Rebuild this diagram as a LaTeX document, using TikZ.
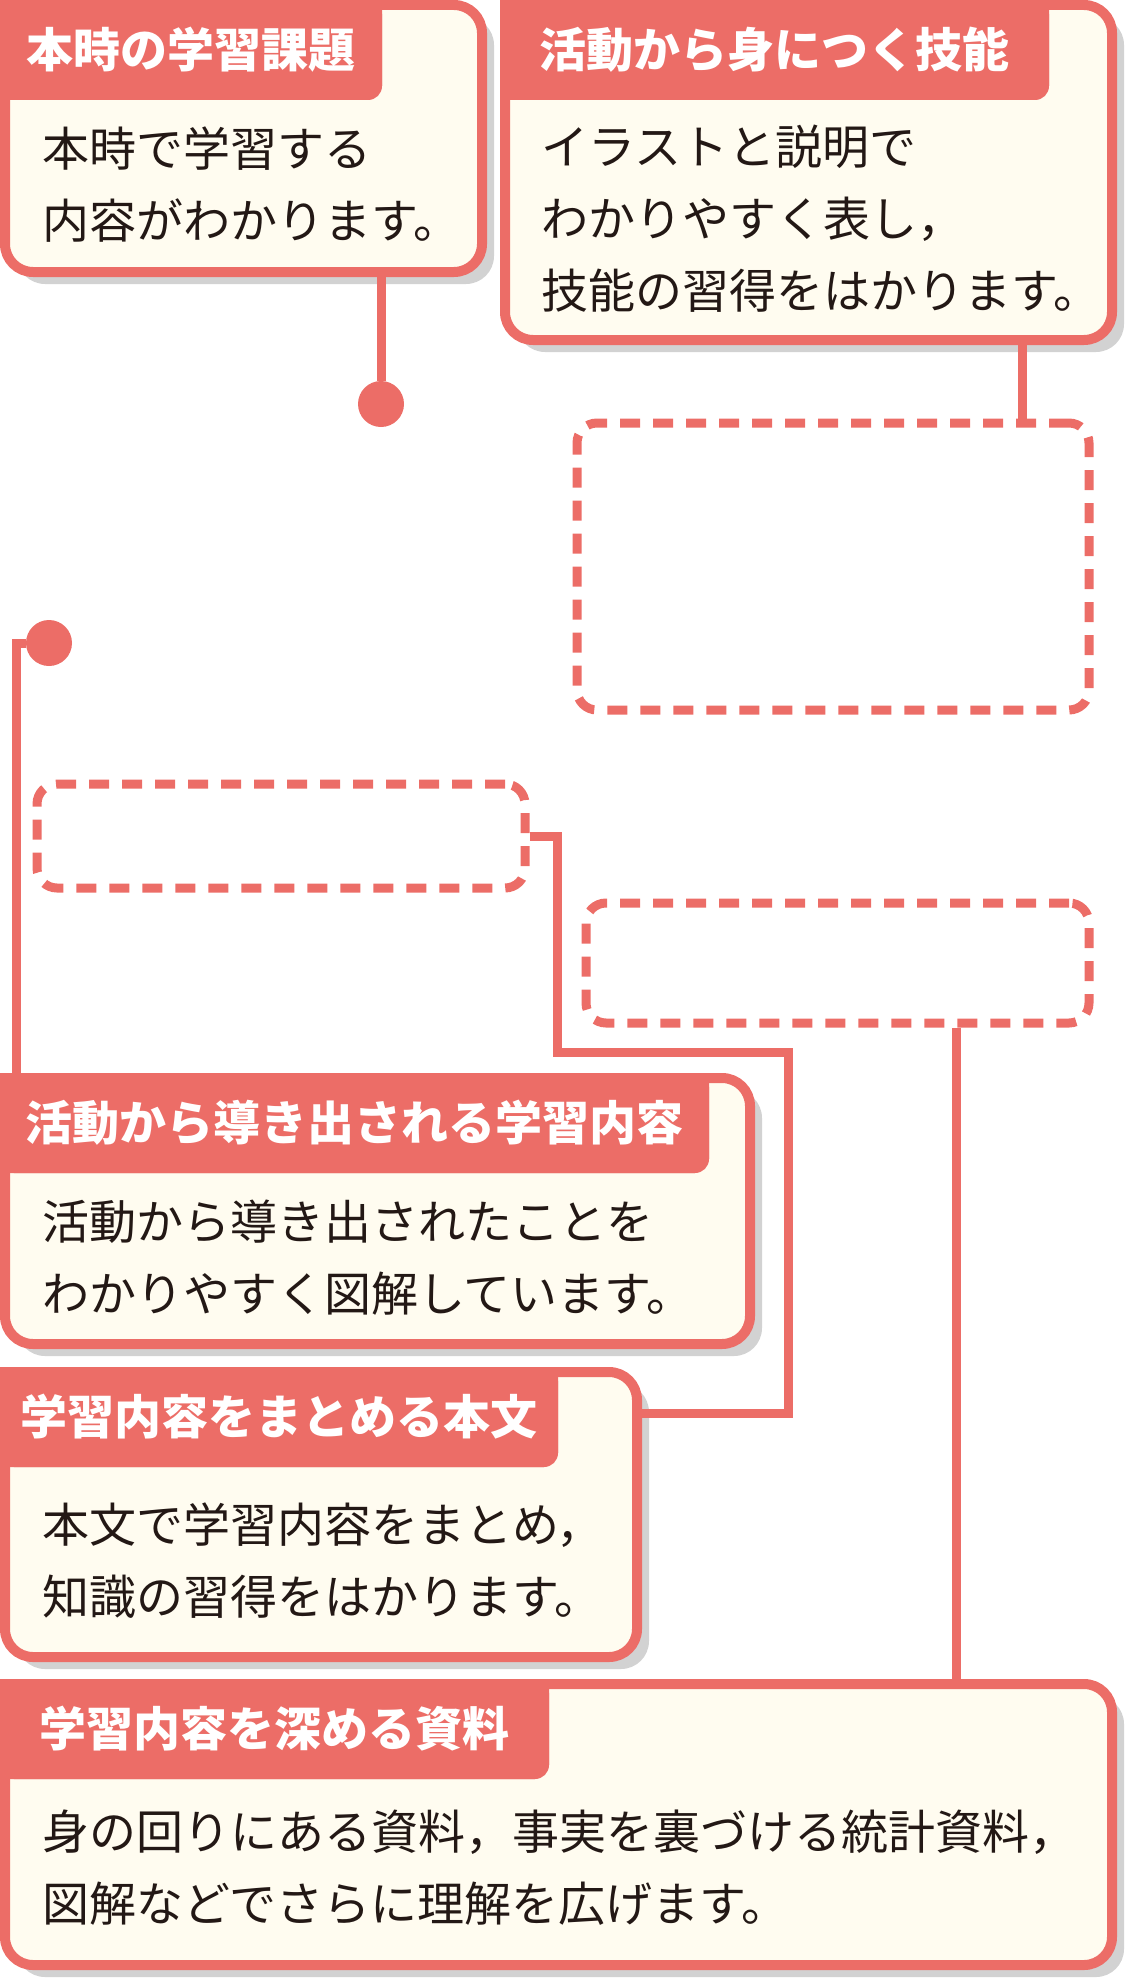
\documentclass[tikz,border=0pt]{standalone}
\usepackage{fontspec}
\setmainfont{Noto Sans CJK JP}
\usepackage{tikz}
\usetikzlibrary{shadows}
\definecolor{salmon}{RGB}{236,109,103}
\definecolor{cream}{RGB}{255,252,240}
\definecolor{shadowgray}{RGB}{210,210,210}
\definecolor{ink}{RGB}{35,24,21}

\begin{document}
\begin{tikzpicture}[x=1pt, y=-1pt]
		\tikzstyle{panel} = [draw=salmon, fill=cream, line width=10pt, rounded corners=28pt,
		inner sep=0pt, drop shadow={shadow xshift=12pt, shadow yshift=-12pt, fill=shadowgray, opacity=1}]
		\tikzstyle{tab} = [fill=salmon, text=white, rounded corners=14pt, inner sep=0pt,
		outer sep=0pt, font=\fontsize{47}{56}\selectfont\bfseries]
		\tikzstyle{body} = [text=ink, inner sep=0pt, outer sep=0pt, anchor=base west,
		font=\fontsize{47}{72}\selectfont]
		\tikzstyle{slot} = [draw=salmon, line width=9pt, dash pattern=on 20pt off 13pt,
		rounded corners=20pt, inner sep=0pt]
		\tikzstyle{dot} = [circle, fill=salmon, minimum size=46pt, inner sep=0pt]
		\tikzstyle{link} = [draw=salmon, line width=9pt]
		\useasboundingbox (0,0) rectangle (1125,1980);

		% panels
		\node[panel, minimum width=477pt, minimum height=267pt, anchor=north west] (kadai) at (0,0) {};
		\node[panel, minimum width=607pt, minimum height=335pt, anchor=north west] (ginou) at (500,0) {};
		\node[panel, minimum width=745pt, minimum height=266pt, anchor=north west] (naiyou) at (0,1073) {};
		\node[panel, minimum width=632pt, minimum height=285pt, anchor=north west] (honbun) at (0,1367) {};
		\node[panel, minimum width=1107pt, minimum height=281pt, anchor=north west] (shiryou) at (0,1679) {};

		% tabs
		\fill[salmon] (kadai.north west) rectangle +(368,100) (kadai.north west) rectangle +(382,86);
		\node[tab, minimum width=382pt, minimum height=100pt, anchor=north west] (kadaiTitle) at (kadai.north west) {本時の学習課題};
		\fill[salmon] (ginou.north west) rectangle +(535,100) (ginou.north west) rectangle +(549,86);
		\node[tab, minimum width=549pt, minimum height=100pt, anchor=north west] (ginouTitle) at (ginou.north west) {活動から身につく技能};
		\fill[salmon] (naiyou.north west) rectangle +(695,100) (naiyou.north west) rectangle +(709,86);
		\node[tab, minimum width=709pt, minimum height=100pt, anchor=north west] (naiyouTitle) at (naiyou.north west) {活動から導き出される学習内容};
		\fill[salmon] (honbun.north west) rectangle +(544,100) (honbun.north west) rectangle +(558,86);
		\node[tab, minimum width=558pt, minimum height=100pt, anchor=north west] (honbunTitle) at (honbun.north west) {学習内容をまとめる本文};
		\fill[salmon] (shiryou.north west) rectangle +(535,100) (shiryou.north west) rectangle +(549,86);
		\node[tab, minimum width=549pt, minimum height=100pt, anchor=north west] (shiryouTitle) at (shiryou.north west) {学習内容を深める資料};

		% texts
		\node[body] (kadaiText) at (42,167) {\begin{tabular}[t]{@{}l@{}}本時で学習する\\内容がわかります。\end{tabular}};
		\node[body] (ginouText) at (541,165) {\begin{tabular}[t]{@{}l@{}}イラストと説明で\\わかりやすく表し，\\技能の習得をはかります。\end{tabular}};
		\node[body] (naiyouText) at (42,1239) {\begin{tabular}[t]{@{}l@{}}活動から導き出されたことを\\わかりやすく図解しています。\end{tabular}};
		\node[body] (honbunText) at (42,1542) {\begin{tabular}[t]{@{}l@{}}本文で学習内容をまとめ，\\知識の習得をはかります。\end{tabular}};
		\node[body] (shiryouText) at (42,1849) {\begin{tabular}[t]{@{}l@{}}身の回りにある資料，事実を裏づける統計資料，\\図解などでさらに理解を広げます。\end{tabular}};

		% empty areas and pins
		\node[slot, minimum width=512pt, minimum height=287pt] (ginouArea) at (833,566.5) {};
		\node[slot, minimum width=488pt, minimum height=104pt] (honbunArea) at (281,836) {};
		\node[slot, minimum width=503pt, minimum height=120pt] (shiryouArea) at (837.5,963) {};
		\node[dot] (kadaiDot) at (381,404) {};
		\node[dot] (naiyouDot) at (49,643) {};

		% connectors
		\coordinate (b1) at (1022,0);
		\coordinate (c1) at (16,643);
		\coordinate (d1) at (557,1052);
		\coordinate (d2) at (788,1413);
		\coordinate (e1) at (956,0);
		\path[link]
		(kadaiDot) -- (kadaiDot |- kadai.south)
		(ginou.south -| b1) -- (ginouArea.north -| b1)
		(naiyouDot) -- (c1) -- (c1 |- naiyou.north)
		(honbunArea.east) -| (d1) -| (d2) -- (honbun.east |- d2)
		(shiryouArea.south -| e1) -- (shiryou.north -| e1);
\end{tikzpicture}
\end{document}
